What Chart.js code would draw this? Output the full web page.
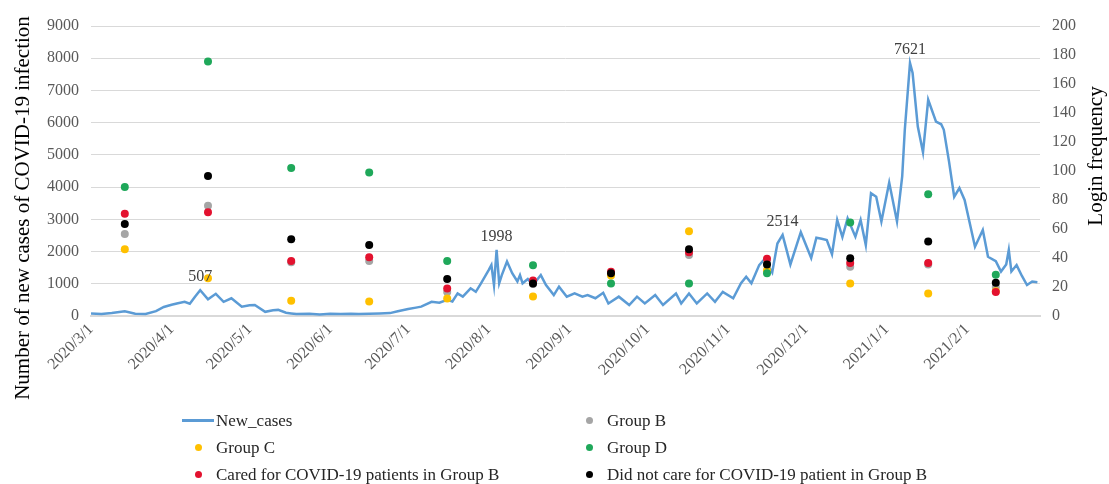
<!DOCTYPE html>
<html>
<head>
<meta charset="utf-8">
<script src="https://cdn.jsdelivr.net/npm/chart.js@4.4.0/dist/chart.umd.min.js"></script>
<style>
    html, body { margin: 0; padding: 0; background: #fff; }
    #wrap { position: relative; width: 1109px; height: 484px; }
    #legend {
        position: absolute; left: 182px; top: 407px;
        display: grid; grid-template-columns: 391px 420px; grid-auto-rows: 27px;
        font: 17px 'Liberation Serif', 'Times New Roman', serif; color: #262626;
    }
    .item { display: flex; align-items: center; white-space: nowrap; }
    .mark { width: 32px; height: 27px; display: flex; align-items: center; justify-content: center; margin-right: 2px; }
    .dot { width: 7px; height: 7px; border-radius: 50%; }
    .dash { width: 32px; height: 2.5px; }
</style>
</head>
<body>
<div id="wrap">
    <canvas id="chart" width="1109" height="484"></canvas>
    <div id="legend"></div>
</div>
<script>
// New cases per day (day counted from 2020/3/1)
const caseDays = [0, 4, 8, 13, 17, 21, 25, 28, 31, 33, 36, 38, 40, 42, 45, 48, 51, 54, 58, 61, 63, 67, 70, 72, 75, 77, 79,
    84, 88, 92, 96, 100, 103, 107, 111, 115, 118, 122, 125, 127, 131, 134, 137, 139, 141, 143, 146, 148, 150, 153, 154,
    155, 156, 157, 158, 160, 162, 164, 165, 166, 168, 170, 173, 175, 178, 180, 183, 186, 189, 191, 194, 197, 199, 203,
    207, 210, 213, 217, 220, 225, 227, 230, 233, 237, 240, 243, 247, 250, 252, 254, 257, 259, 262, 264, 266, 269, 273,
    277, 279, 281, 283, 285, 287, 289, 291, 294, 296, 298, 300, 302, 304, 307, 310, 312, 313, 315, 316, 318, 320, 322,
    325, 327, 328, 330, 332, 334, 336, 340, 343, 345, 348, 350, 352, 353, 354, 356, 358, 360, 362, 364];
const caseValues = [80, 60, 90, 150, 70, 60, 150, 280, 350, 390, 440, 380, 600, 800, 520, 690, 440, 550, 290, 330, 340, 130, 180, 190, 100, 80, 60,
    70, 50, 70, 60, 70, 60, 70, 80, 90, 150, 220, 260, 290, 440, 410, 500, 450, 700, 600, 860, 750, 1015, 1430, 1580,
    960, 2050, 1015, 1270, 1690, 1330, 1070, 1270, 1015, 1150, 960, 1270, 960, 650, 910, 600, 700, 600, 650, 550, 720, 390, 600,
    340, 600, 390, 650, 340, 700, 390, 700, 390, 700, 440, 750, 550, 1015, 1220, 1015, 1580, 1760, 1350, 2250, 2515, 1600, 2600,
    1800, 2430, 2400, 2360, 1920, 2980, 2450, 3030, 2460, 2980, 2200, 3810, 3700, 2930, 4140, 2930, 4330, 5780, 7850, 7540, 5880, 5080, 6710,
    6030, 5950, 5780, 4800, 3700, 3970, 3600, 2150, 2670, 1840, 1700, 1380, 1600, 2050, 1380, 1580, 1250, 960, 1070, 1050];

// Login frequency of the monthly surveys
const surveyDays = [13, 45, 77, 107, 137, 170, 200, 230, 260, 292, 322, 348];
const groupB = [56.5, 76, 37, 38, 16.5, 22, 29, 42, 37, 34, 35.5, 20];
const groupC = [46, 26, 10.5, 10, 12, 13.5, 28, 58.5, 31.5, 22.5, 15.5, 17];
const groupD = [89, 175.5, 102, 99, 38, 35, 22.5, 22.5, 29.5, 64.5, 84, 28.5];
const caredB = [70.5, 71.5, 38, 40.5, 19, 24.5, 30.5, 44, 39.5, 36.5, 36.5, 16.5];
const notCaredB = [63.5, 96.5, 53, 49, 25.5, 22.5, 29.5, 46, 35.5, 39.8, 51.3, 23];

// X axis ticks (first day of every month)
const monthDays = [0, 31, 61, 92, 122, 153, 184, 214, 245, 275, 306, 337];
const monthLabels = ['2020/3/1', '2020/4/1', '2020/5/1', '2020/6/1', '2020/7/1', '2020/8/1', '2020/9/1',
    '2020/10/1', '2020/11/1', '2020/12/1', '2021/1/1', '2021/2/1'];

// Labels over the peaks of the curve
const peakDays = [42, 156, 266, 315];
const peakLabels = ['507', '1998', '2514', '7621'];

const fontFamily = "'Liberation Serif', 'Times New Roman', serif";
Chart.defaults.font.family = fontFamily;

const toPoints = (xs, ys) => xs.map((x, i) => ({ x: x, y: ys[i] }));

const scatterSet = (label, values, color, order) => ({
    type: 'scatter',
    label: label,
    data: toPoints(surveyDays, values),
    yAxisID: 'y1',
    backgroundColor: color,
    borderColor: color,
    pointRadius: 4,
    borderWidth: 0,
    order: order
});

// Peak labels
const peakLabelPlugin = {
    id: 'peakLabels',
    afterDatasetsDraw(chart) {
        const ctx = chart.ctx;
        const meta = chart.getDatasetMeta(0);
        ctx.save();
        ctx.font = '16px ' + fontFamily;
        ctx.fillStyle = '#404040';
        ctx.textAlign = 'center';
        ctx.textBaseline = 'bottom';
        peakDays.forEach((d, i) => {
            const pt = meta.data[caseDays.indexOf(d)];
            ctx.fillText(peakLabels[i], pt.x, pt.y - 5);
        });
        ctx.restore();
    }
};

// Axis titles (Excel puts them off-centre, so they are drawn here)
const axisTitlePlugin = {
    id: 'axisTitles',
    afterDraw(chart) {
        const ctx = chart.ctx;
        const area = chart.chartArea;
        ctx.save();
        ctx.font = '21px ' + fontFamily;
        ctx.fillStyle = '#000';
        ctx.textAlign = 'center';
        ctx.textBaseline = 'middle';
        ctx.translate(area.left - 68, area.bottom - 108);
        ctx.rotate(-Math.PI / 2);
        ctx.fillText('Number of new cases of COVID-19 infection', 0, 0);
        ctx.restore();

        ctx.save();
        ctx.font = '21px ' + fontFamily;
        ctx.fillStyle = '#000';
        ctx.textAlign = 'center';
        ctx.textBaseline = 'middle';
        ctx.translate(area.right + 56, area.top + 130);
        ctx.rotate(-Math.PI / 2);
        ctx.fillText('Login frequency', 0, 0);
        ctx.restore();
    }
};

const tickFont = { size: 16, family: fontFamily };

const chart = new Chart(document.getElementById('chart'), {
    type: 'line',
    data: {
        datasets: [
            {
                label: 'New_cases',
                data: toPoints(caseDays, caseValues),
                yAxisID: 'y',
                borderColor: '#5B9BD5',
                backgroundColor: '#5B9BD5',
                borderWidth: 2.5,
                pointRadius: 0,
                tension: 0,
                fill: false,
                order: 10
            },
            scatterSet('Group B', groupB, '#A5A5A5', 5),
            scatterSet('Group C', groupC, '#FFC000', 4),
            scatterSet('Group D', groupD, '#1FA85A', 3),
            scatterSet('Cared for COVID-19 patients in Group B', caredB, '#E3122F', 2),
            scatterSet('Did not care for COVID-19 patient in Group B', notCaredB, '#000000', 1)
        ]
    },
    options: {
        responsive: false,
        animation: false,
        layout: { padding: { top: 26, left: 0, right: 0, bottom: 0 } },
        scales: {
            x: {
                type: 'linear',
                min: 0,
                max: 365,
                afterBuildTicks: (scale) => {
                    scale.ticks = monthDays.map(v => ({ value: v }));
                },
                afterFit: (scale) => { scale.height = 168; },
                ticks: {
                    autoSkip: false,
                    minRotation: 45,
                    maxRotation: 45,
                    padding: 4,
                    color: '#595959',
                    font: tickFont,
                    callback: (value) => monthLabels[monthDays.indexOf(value)]
                },
                grid: { display: false, drawTicks: false },
                border: { display: true, color: '#D9D9D9', width: 2 }
            },
            y: {
                position: 'left',
                min: 0,
                max: 9000,
                afterFit: (scale) => { scale.width = 91; },
                ticks: { stepSize: 1000, padding: 12, color: '#595959', font: tickFont, callback: (v) => String(v) },
                grid: { color: '#D9D9D9', lineWidth: 1, drawTicks: false },
                border: { display: false }
            },
            y1: {
                position: 'right',
                min: 0,
                max: 200,
                afterFit: (scale) => { scale.width = 69; },
                ticks: { stepSize: 20, padding: 12, color: '#595959', font: tickFont, callback: (v) => String(v) },
                grid: { display: false, drawTicks: false },
                border: { display: false }
            }
        },
        plugins: {
            legend: { display: false },
            tooltip: { enabled: false }
        }
    },
    plugins: [peakLabelPlugin, axisTitlePlugin]
});

// Legend in two columns, built from the datasets
const legendEl = document.getElementById('legend');
chart.data.datasets.forEach(ds => {
    const item = document.createElement('div');
    item.className = 'item';
    const mark = document.createElement('span');
    mark.className = 'mark';
    const sym = document.createElement('span');
    sym.className = ds.type === 'scatter' ? 'dot' : 'dash';
    sym.style.background = ds.backgroundColor;
    mark.appendChild(sym);
    const text = document.createElement('span');
    text.textContent = ds.label;
    item.appendChild(mark);
    item.appendChild(text);
    legendEl.appendChild(item);
});
</script>
</body>
</html>
